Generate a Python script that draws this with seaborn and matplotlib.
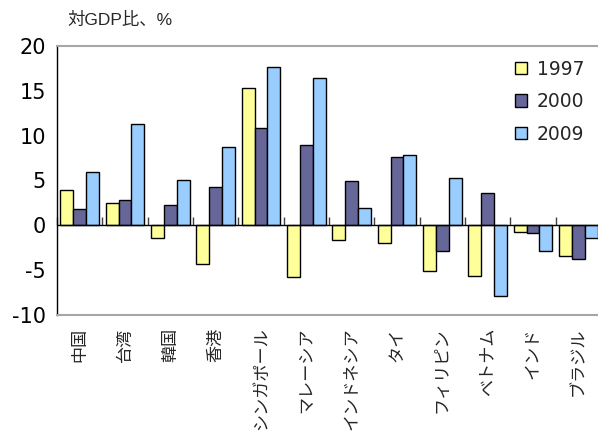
import numpy as np
import pandas as pd
import seaborn as sns
from matplotlib import pyplot as plt

# values (対GDP比、%)
countries = ['中国', '台湾', '韓国', '香港', 'シンガポール', 'マレーシア',
             'インドネシア', 'タイ', 'フィリピン', 'ベトナム', 'インド', 'ブラジル']
years = ['1997', '2000', '2009']
v1997 = [3.9, 2.5, -1.4, -4.3, 15.35, -5.8, -1.6, -1.95, -5.1, -5.6, -0.7, -3.4]
v2000 = [1.8, 2.85, 2.3, 4.3, 10.8, 9.0, 5.0, 7.6, -2.85, 3.6, -0.9, -3.7]
v2009 = [6.0, 11.3, 5.1, 8.7, 17.7, 16.4, 1.95, 7.8, 5.3, -7.9, -2.85, -1.4]
colors = ['#FFFF99', '#666699', '#99CCFF']

df = pd.DataFrame({
    'country': countries * 3,
    'year': [y for y in years for _ in countries],
    'value': v1997 + v2000 + v2009,
})

sns.set_style('white')
plt.rcParams['font.family'] = ['Liberation Sans', 'Noto Sans CJK JP', 'DejaVu Sans']
plt.rcParams['axes.unicode_minus'] = False

fig = plt.figure(figsize=(5.98, 4.37), dpi=100)
ax = fig.add_axes([57 / 598, 1 - 315 / 437, 544 / 598, 269 / 437])

sns.barplot(data=df, x='country', y='value', hue='year', order=countries,
            hue_order=years, palette=colors, width=0.86, gap=0,
            edgecolor='black', linewidth=1, saturation=1, ax=ax)

ax.set_xlim(-0.5, len(countries) - 0.5)
ax.set_ylim(-10, 20)
ax.set_yticks([-10, -5, 0, 5, 10, 15, 20])
ax.set_xlabel('')
ax.set_ylabel('')
ax.axhline(0, color='black', lw=1, zorder=5)

for s in ['top', 'bottom']:
    ax.spines[s].set_color('#A6A6A6')
    ax.spines[s].set_linewidth(1.5)
ax.spines['left'].set_color('black')
ax.spines['left'].set_linewidth(1)
ax.spines['right'].set_visible(False)

ax.tick_params(axis='y', length=0, pad=8, colors='black')
for lab in ax.get_yticklabels():
    lab.set_fontfamily('DejaVu Sans')
    lab.set_fontsize(15)
ax.tick_params(axis='x', length=0, pad=9)
ax.set_xticks(range(len(countries)))
ax.set_xticklabels(countries, rotation=90, va='top', ha='center', fontsize=12.3)

# small tick marks on the zero line between groups
sec = ax.secondary_xaxis(1 / 3)
sec.set_xticks(np.arange(-0.5, len(countries) + 0.5, 1))
sec.tick_params(direction='in', length=6, width=1, colors='#404040', labelbottom=False)
sec.set_xticklabels([])
sec.spines['bottom'].set_visible(False)

leg = ax.legend(loc='upper right', bbox_to_anchor=(1.0, 1.012), frameon=False,
                prop={'family': 'DejaVu Sans', 'size': 13.5},
                handlelength=0.65, handleheight=0.65,
                handletextpad=0.5, labelspacing=0.72)
for h in leg.legend_handles:
    h.set_edgecolor('black')
    h.set_linewidth(1)

fig.text(67 / 598, 1 - 20 / 437, '対GDP比、%', fontsize=12.5, va='center', ha='left')

plt.savefig('out.png', dpi=100)
